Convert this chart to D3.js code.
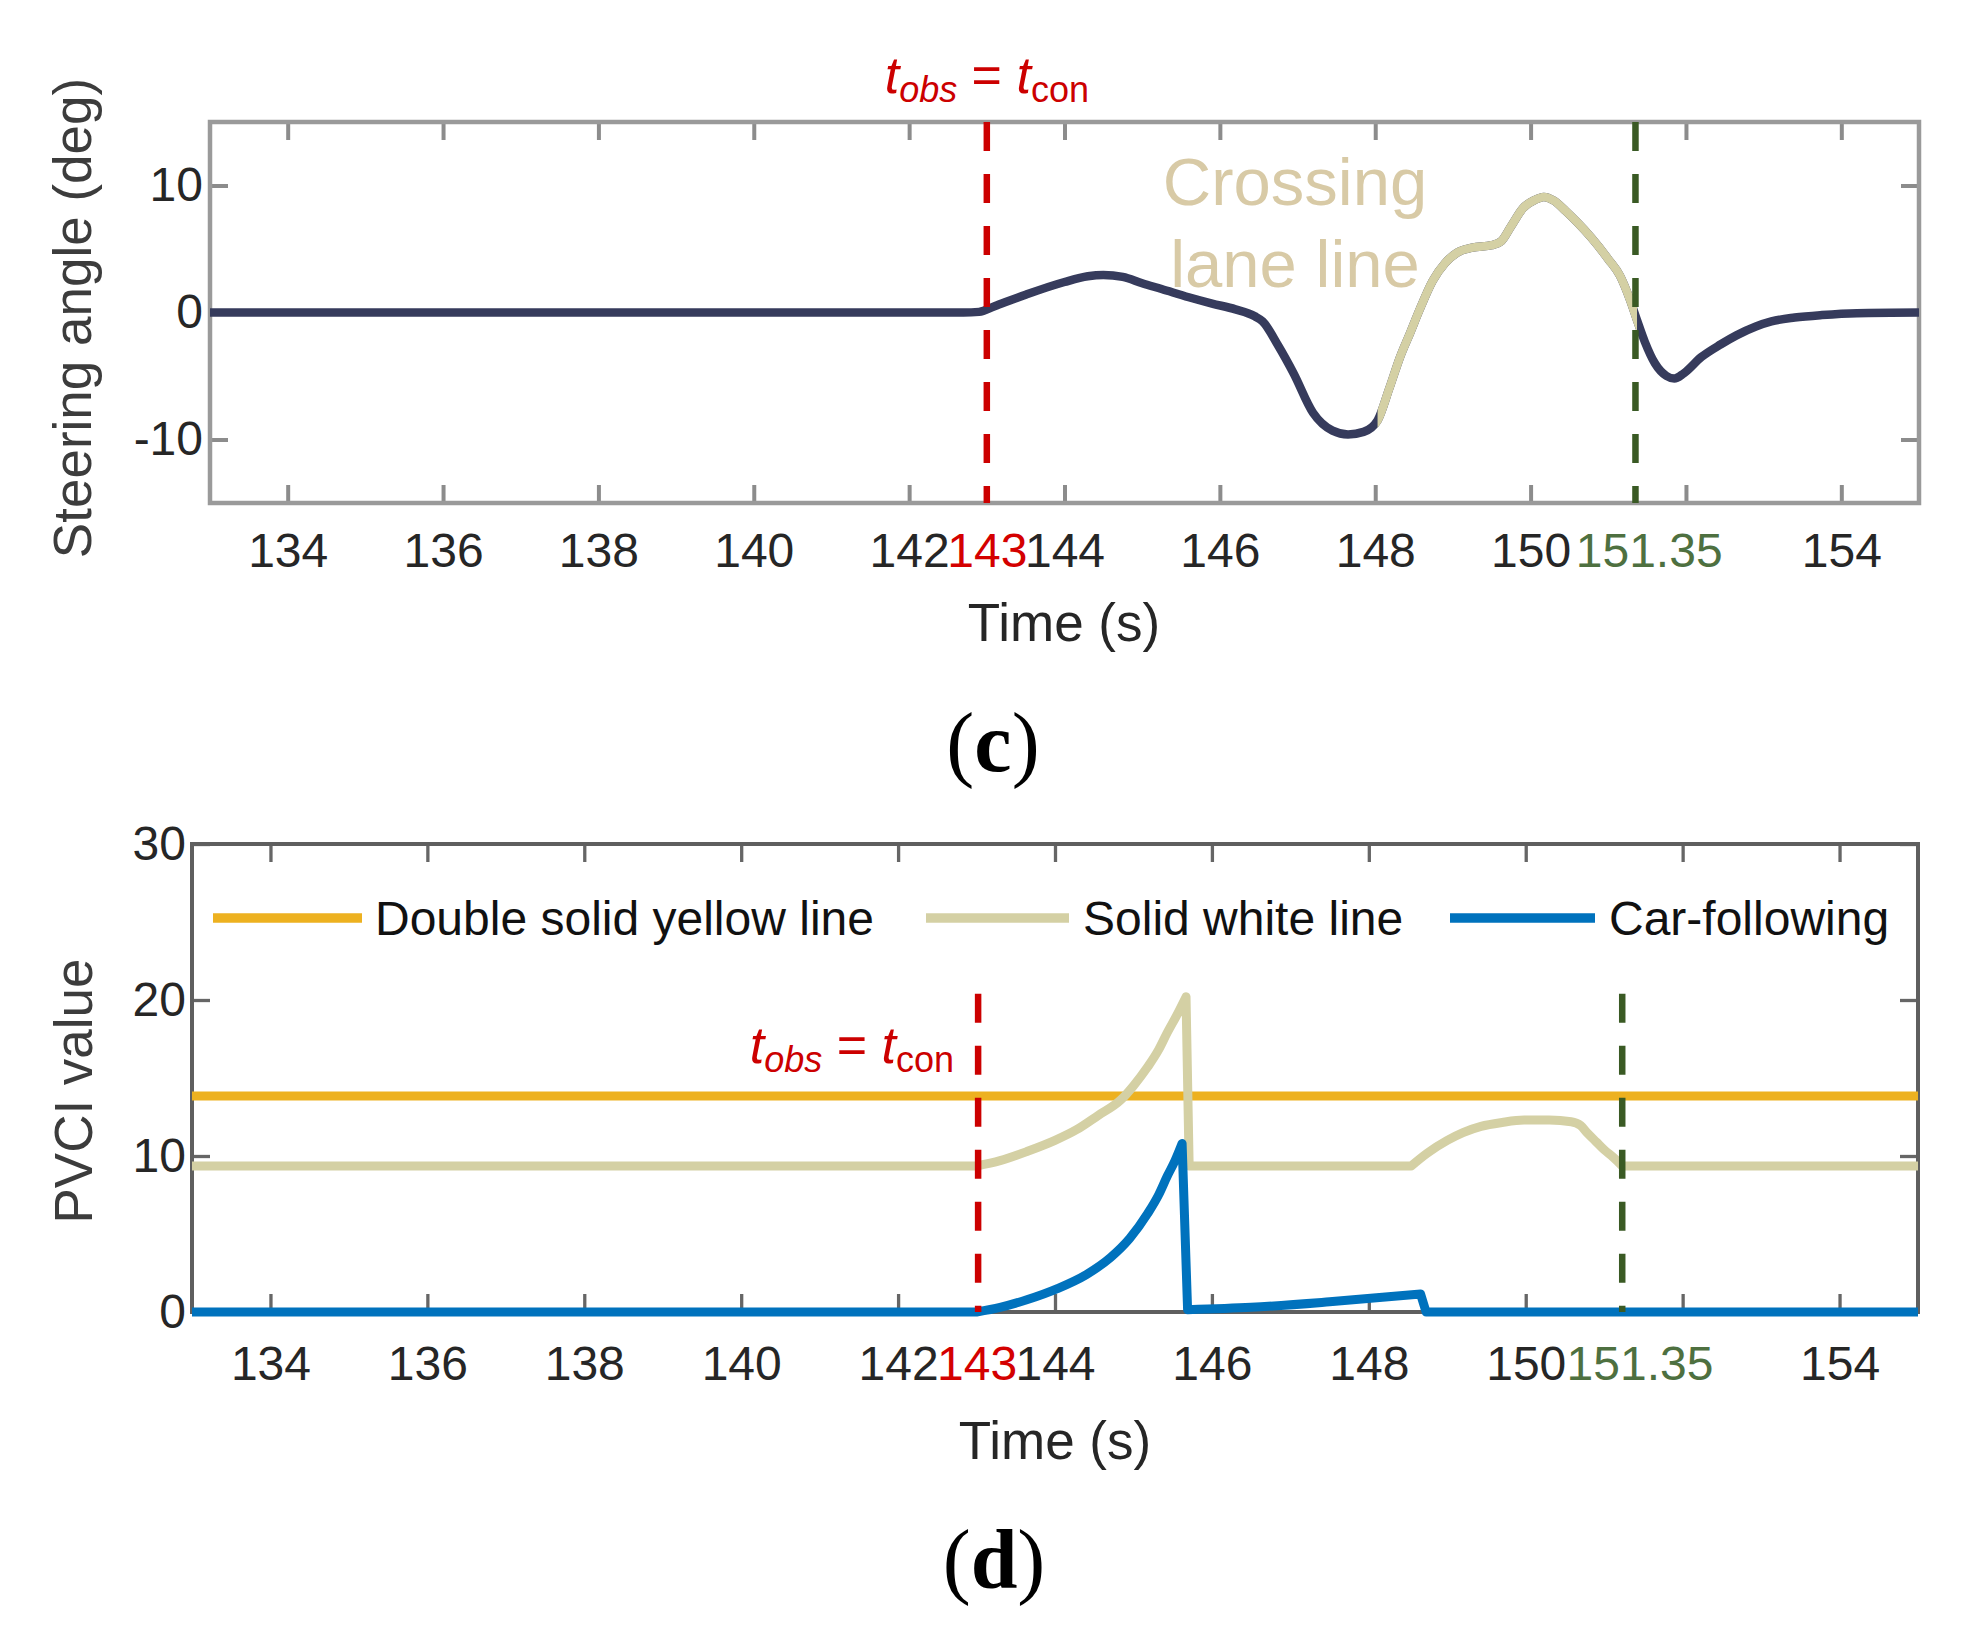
<!DOCTYPE html>
<html><head><meta charset="utf-8">
<script src="https://cdn.jsdelivr.net/npm/d3@7"></script>
<style>body{margin:0;background:#fff}svg{display:block}</style>
</head><body>
<svg id="chart" width="1979" height="1627"></svg>
<script>
// ---------- data ----------
const steerTime  = [133,142.7,142.9,143.1,143.5,144.0,144.3,144.5,144.75,145.0,145.25,145.6,145.9,146.2,146.45,146.55,146.75,146.95,147.2,147.45,147.65,147.85,148.03,148.18,148.32,148.45,148.57,148.74,148.9,149.05,149.25,149.5,149.62,149.75,149.9,150.05,150.17,150.3,150.45,150.6,150.78,151.0,151.15,151.28,151.37,151.47,151.6,151.75,151.85,151.97,152.2,152.45,152.65,152.9,153.1,153.4,153.75,154.2,155];
const steerAngle = [0,0,0.05,0.5,1.4,2.4,2.85,2.95,2.8,2.3,1.85,1.2,0.7,0.25,-0.3,-0.7,-2.6,-4.8,-7.9,-9.3,-9.6,-9.4,-8.5,-6.0,-3.5,-1.6,0.2,2.5,3.9,4.7,5.1,5.3,5.6,6.8,8.2,8.85,9.1,8.8,8.0,7.1,5.9,4.2,2.9,1.0,-0.6,-2.3,-4.0,-5.0,-5.2,-4.8,-3.5,-2.5,-1.8,-1.1,-0.7,-0.4,-0.2,-0.05,0];
const crossingInterval = [148.03, 151.37];

const yellowTime  = [133, 155];
const yellowValue = [13.85, 13.85];
const whiteTime  = [133,143.0,143.3,143.65,144.0,144.28,144.55,144.84,145.0,145.18,145.32,145.43,145.55,145.67,145.71,148.54,148.75,149.0,149.2,149.43,149.7,149.98,150.3,150.58,150.7,150.79,150.9,151.0,151.12,151.23,155];
const whiteValue = [9.36,9.36,9.7,10.3,11.0,11.7,12.6,13.6,14.5,15.7,16.8,17.9,19.0,20.2,9.36,9.36,10.2,11.0,11.5,11.9,12.15,12.3,12.3,12.2,11.95,11.45,10.9,10.4,9.9,9.36,9.36];
const whiteBreaks = [143.0, 145.67, 145.71, 148.54, 151.23];
const carTime  = [133,143.0,143.3,143.65,144.03,144.4,144.71,144.95,145.18,145.32,145.43,145.53,145.62,145.69,146.5,147.5,148.66,148.73,155];
const carValue = [0,0,0.3,0.8,1.5,2.4,3.5,4.7,6.3,7.5,8.7,9.7,10.8,0.15,0.3,0.65,1.15,0,0];
const carBreaks = [143.0, 145.62, 145.69, 148.66, 148.73];

const xTicks = [134,136,138,140,142,144,146,148,150,152,154];
const xTickLabels = ["134","136","138","140","142","144","146","148","150","","154"];
const yTicksC = [-10,0,10];
const yTicksD = [0,10,20,30];
const markTimesC = [143, 151.35];
const markTimesD = [143.02, 151.23];
const markLabels = ["143", "151.35"];
const markLabelPosC = [143, 151.52];
const markLabelPosD = [143, 151.45];
const legendLabels = ["Double solid yellow line", "Solid white line", "Car-following"];

// ---------- styles ----------
const FONT = "'Liberation Sans', Arial, Helvetica, sans-serif";
const RED = "#cc0000", GREEN = "#3a5a24", GREENTXT = "#4e7040";
const NAVY = "#363b5c", BEIGE = "#d4d0a4", YELLOW = "#edb120", BLUE = "#0072bd";

const svg = d3.select("#chart");
svg.append("rect").attr("width",1979).attr("height",1627).attr("fill","#fff");

function zip(a,b){ return a.map((t,i)=>[t,b[i]]); }

function splitAt(points, breaks){
  const segs = []; let cur = [];
  points.forEach(p=>{
    cur.push(p);
    if (breaks.includes(p[0])) { segs.push(cur); cur = [p]; }
  });
  if (cur.length > 1) segs.push(cur);
  return segs;
}

function drawAxes(g, x, y, yTicks, opt){
  const [x0,x1] = x.range(), [y0,y1] = y.range();
  const styleAxis = sel => {
    sel.select(".domain").remove();
    sel.selectAll(".tick line").attr("stroke", opt.tickColor).attr("stroke-width", opt.tickWidth);
    sel.selectAll(".tick text").attr("fill","#262626").style("font-family",FONT).style("font-size","48px");
  };
  g.append("g").attr("transform",`translate(0,${y0})`)
    .call(d3.axisBottom(x).tickValues(xTicks).tickFormat((d,i)=>xTickLabels[i]).tickSize(-18).tickPadding(opt.xPad))
    .call(styleAxis);
  g.append("g").attr("transform",`translate(0,${y1})`)
    .call(d3.axisTop(x).tickValues(xTicks).tickFormat("").tickSize(-18))
    .call(styleAxis);
  g.append("g").attr("transform",`translate(${x0},0)`)
    .call(d3.axisLeft(y).tickValues(yTicks).tickFormat(d=>String(d)).tickSize(-18).tickPadding(opt.yPad))
    .call(styleAxis);
  g.append("g").attr("transform",`translate(${x1},0)`)
    .call(d3.axisRight(y).tickValues(yTicks).tickFormat("").tickSize(-18))
    .call(styleAxis);
  const sp = g.append("g").attr("transform",`translate(0,${y0})`)
    .call(d3.axisBottom(x).tickValues(opt.markPos).tickFormat((d,i)=>markLabels[i]).tickSize(0).tickPadding(opt.xPad));
  sp.select(".domain").remove();
  sp.selectAll(".tick line").remove();
  sp.selectAll(".tick text").style("font-family",FONT).style("font-size","48px")
    .attr("fill",(d,i)=> i===0 ? "#d40000" : GREENTXT);
  g.append("rect").attr("x",x0).attr("y",y1).attr("width",x1-x0).attr("height",y0-y1)
    .attr("fill","none").attr("stroke",opt.boxColor).attr("stroke-width",opt.boxWidth);
}

function annot(g, xpos, ybase, anchor){
  const t = g.append("text").attr("x",xpos).attr("y",ybase).attr("text-anchor",anchor)
    .attr("fill",RED).style("font-family",FONT).style("font-size","52px");
  t.append("tspan").text("t").style("font-style","italic");
  t.append("tspan").text("obs").style("font-style","italic").style("font-size","36px").attr("dy",9);
  t.append("tspan").text(" = ").attr("dy",-9);
  t.append("tspan").text("t").style("font-style","italic");
  t.append("tspan").text("con").style("font-size","36px").attr("dy",9);
}

function dashed(g, x, y, t, v0, v1, color){
  g.append("line").attr("x1",x(t)).attr("x2",x(t)).attr("y1",y(v0)).attr("y2",y(v1))
    .attr("stroke",color).attr("stroke-width",6.5).attr("stroke-dasharray","29 23");
}

// ---------- panel (c) ----------
const xC = d3.scaleLinear([133,155],[210,1919]);
const yC = d3.scaleLinear([-15,15],[503,122]);
const gC = svg.append("g");
drawAxes(gC, xC, yC, yTicksC, {tickColor:"#8c8c8c", tickWidth:4, boxColor:"#9a9a9a", boxWidth:4.5, xPad:30, yPad:7, markPos:markLabelPosC});

const steer = zip(steerTime, steerAngle);
const lineC = d3.line().x(d=>xC(d[0])).y(d=>yC(d[1])).curve(d3.curveMonotoneX);
gC.append("path").attr("d",lineC(steer)).attr("fill","none").attr("stroke",NAVY)
  .attr("stroke-width",8.5).attr("stroke-linejoin","round");
svg.append("clipPath").attr("id","crossClip").append("rect")
  .attr("x",xC(crossingInterval[0])).attr("width",xC(crossingInterval[1])-xC(crossingInterval[0]))
  .attr("y",0).attr("height",800);
gC.append("path").attr("d",lineC(steer)).attr("fill","none").attr("stroke",BEIGE)
  .attr("stroke-width",8.5).attr("stroke-linejoin","round").attr("clip-path","url(#crossClip)");

dashed(gC, xC, yC, markTimesC[0], 15, -15, RED);
dashed(gC, xC, yC, markTimesC[1], 15, -15, GREEN);

gC.append("text").attr("x",1295).attr("y",205).attr("text-anchor","middle").attr("fill","#d8caa6")
  .style("font-family",FONT).style("font-size","67px").text("Crossing");
gC.append("text").attr("x",1295).attr("y",287).attr("text-anchor","middle").attr("fill","#d8caa6")
  .style("font-family",FONT).style("font-size","67px").text("lane line");
annot(gC, xC(markTimesC[0]), 93, "middle");

gC.append("text").attr("x",1064).attr("y",641).attr("text-anchor","middle").attr("fill","#262626")
  .style("font-family",FONT).style("font-size","53px").text("Time (s)");
gC.append("text").attr("transform","translate(91,318) rotate(-90)").attr("text-anchor","middle").attr("fill","#3c3c3c")
  .style("font-family",FONT).style("font-size","53px").text("Steering angle (deg)");
const labC = svg.append("text").attr("x",993).attr("y",771).attr("text-anchor","middle")
  .style("font-family","'Liberation Serif','Times New Roman',serif").style("font-size","84px").attr("fill","#000");
labC.append("tspan").text("(");
labC.append("tspan").text("c").style("font-weight","bold");
labC.append("tspan").text(")");

// ---------- panel (d) ----------
const xD = d3.scaleLinear([133,155],[192,1918]);
const yD = d3.scaleLinear([0,30],[1312,844]);
const gD = svg.append("g");
drawAxes(gD, xD, yD, yTicksD, {tickColor:"#666", tickWidth:3.3, boxColor:"#5f5f5f", boxWidth:4, xPad:34, yPad:6, markPos:markLabelPosD});

svg.append("clipPath").attr("id","plotClipD").append("rect")
  .attr("x",xD.range()[0]).attr("width",xD.range()[1]-xD.range()[0]).attr("y",800).attr("height",560);
const lineD = d3.line().x(d=>xD(d[0])).y(d=>yD(d[1])).curve(d3.curveMonotoneX);
const series = [
  {t:yellowTime, v:yellowValue, b:[],          c:YELLOW},
  {t:whiteTime,  v:whiteValue,  b:whiteBreaks, c:BEIGE},
  {t:carTime,    v:carValue,    b:carBreaks,   c:BLUE}
];
const gLines = gD.append("g").attr("clip-path","url(#plotClipD)");
series.forEach(s=>{
  const d = splitAt(zip(s.t,s.v), s.b).map(seg=>lineD(seg)).join("");
  gLines.append("path").attr("d",d).attr("fill","none").attr("stroke",s.c)
    .attr("stroke-width",9).attr("stroke-linejoin","round").attr("stroke-linecap","round");
});
dashed(gD, xD, yD, markTimesD[0], 20.4, 0, RED);
dashed(gD, xD, yD, markTimesD[1], 20.4, 0, GREEN);
annot(gD, 954, 1063, "end");

// legend
const legX = [[213,362,375],[926,1069,1083],[1450,1595,1609]];
legendLabels.forEach((lab,i)=>{
  gD.append("line").attr("x1",legX[i][0]).attr("x2",legX[i][1]).attr("y1",918).attr("y2",918)
    .attr("stroke",series[i].c).attr("stroke-width",9.5);
  gD.append("text").attr("x",legX[i][2]).attr("y",935).attr("fill","#111")
    .style("font-family",FONT).style("font-size","48px").text(lab);
});

gD.append("text").attr("x",1055).attr("y",1459).attr("text-anchor","middle").attr("fill","#262626")
  .style("font-family",FONT).style("font-size","53px").text("Time (s)");
gD.append("text").attr("transform","translate(92,1091) rotate(-90)").attr("text-anchor","middle").attr("fill","#3c3c3c")
  .style("font-family",FONT).style("font-size","53px").text("PVCI value");
const labD = svg.append("text").attr("x",994).attr("y",1588).attr("text-anchor","middle")
  .style("font-family","'Liberation Serif','Times New Roman',serif").style("font-size","84px").attr("fill","#000");
labD.append("tspan").text("(");
labD.append("tspan").text("d").style("font-weight","bold");
labD.append("tspan").text(")");
</script>
</body></html>
